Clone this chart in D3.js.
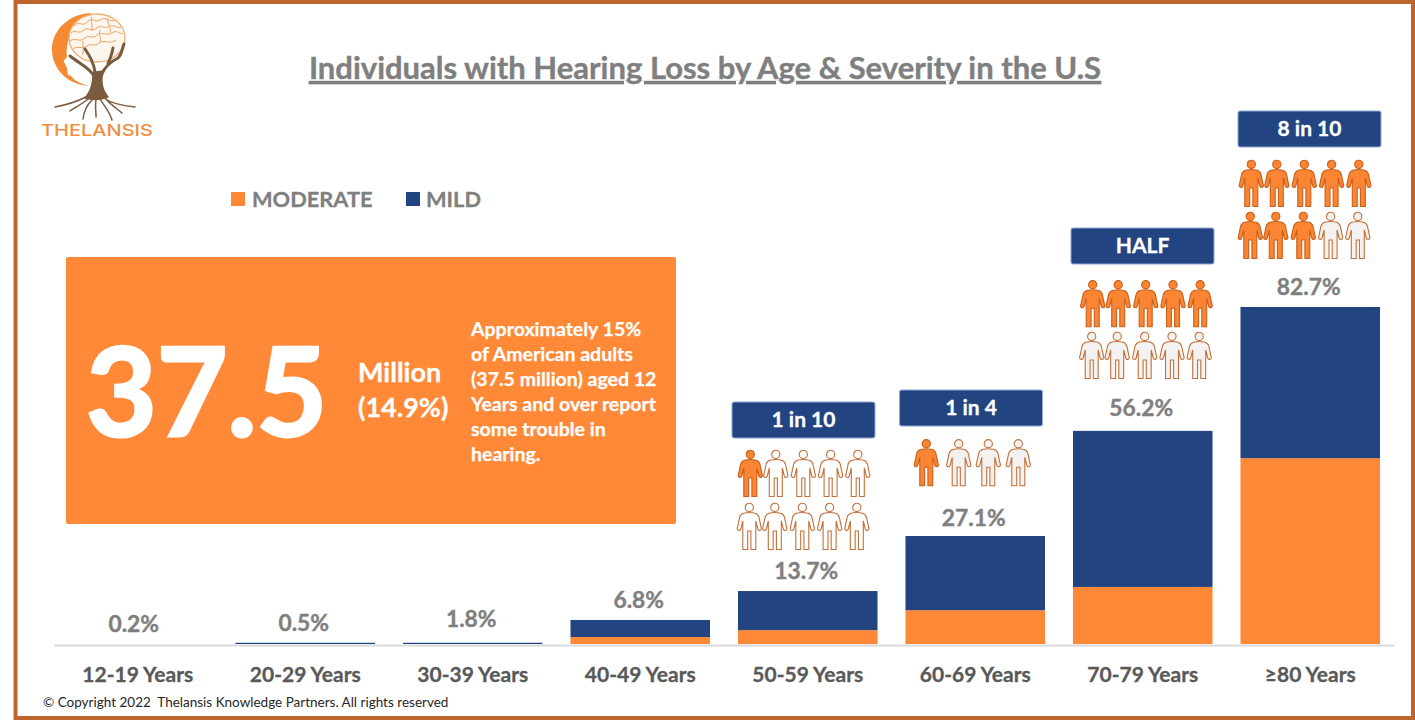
<!DOCTYPE html>
<html>
<head>
<meta charset="utf-8">
<script src="https://cdn.jsdelivr.net/npm/d3@7"></script>
<style>
  html, body { margin: 0; padding: 0; background: #fff; }
  svg { display: block; }
  text { font-family: Lato, "Open Sans", sans-serif; }
  .domain { stroke: #d9d9d9; stroke-width: 2; }
</style>
</head>
<body>
<svg id="chart" width="1415" height="720"></svg>
<script>
// values
const ages = ["12-19 Years", "20-29 Years", "30-39 Years", "40-49 Years", "50-59 Years", "60-69 Years", "70-79 Years", "≥80 Years"]
const moderate = [0, 0, 0, 1.7, 3.4, 8.3, 14, 45.6]
const mild = [0, 0.3, 0.3, 4.2, 9.6, 18.2, 38.3, 37.1]
const totalLabels = ["0.2%", "0.5%", "1.8%", "6.8%", "13.7%", "27.1%", "56.2%", "82.7%"]
const series = ["MODERATE", "MILD"]

// callouts above the last four bars
const calloutAges = ["50-59 Years", "60-69 Years", "70-79 Years", "≥80 Years"]
const calloutText = ["1 in 10", "1 in 4", "HALF", "8 in 10"]
const calloutFilled = [1, 1, 5, 8]
const calloutCount = [10, 4, 10, 10]

const paragraph = ["Approximately 15%", "of American adults", "(37.5 million) aged 12", "Years and over report", "some trouble in", "hearing."]

const ORANGE = "#ff8937"
const BLUE = "#224582"
const GREY = "#7f7f7f"

const svg = d3.select("#chart")

// bold text in the source is a bit heavier than Lato bold
function heavy(sel, color, w) {
  return sel.attr("fill", color).attr("stroke", color).attr("stroke-width", w || 0.35)
    .attr("font-weight", 700)
}

svg.append("rect").attr("width", 1415).attr("height", 720).attr("fill", "#fff")
// frame
svg.append("rect").attr("x", 15.5).attr("y", 2).attr("width", 1397.5).attr("height", 716)
  .attr("fill", "none").attr("stroke", "#bf642c").attr("stroke-width", 4)

let x = d3.scaleBand().domain(ages).range([54, 1394]).paddingInner(0.167).paddingOuter(0.0835)
let y = d3.scaleLinear().domain([0, 82.7]).range([644, 307])

let rows = ages.map((a, i) => ({ age: a, MODERATE: moderate[i], MILD: mild[i] }))
let stack = d3.stack().keys(series)(rows)
let scaleColor = d3.scaleOrdinal().domain(series).range([ORANGE, BLUE])

let axis = svg.append("g").attr("transform", "translate(0,645)")
  .call(d3.axisBottom(x).tickSize(0).tickPadding(22))
axis.selectAll("text").call(heavy, "#595959", 0.3)
  .attr("font-size", 21)
  .style("font-family", "Lato")

svg.append("g").selectAll("g").data(stack).join("g")
  .attr("fill", d => scaleColor(d.key))
  .selectAll("rect").data(d => d).join("rect")
  .attr("x", d => x(d.data.age))
  .attr("width", x.bandwidth())
  .attr("y", d => y(d[1]))
  .attr("height", d => y(d[0]) - y(d[1]))

// total labels, a few sit a little higher or lower in the source
const labelLift = [12, 12, 16, 12, 12, 10, 15, 12]
svg.append("g").selectAll("text").data(ages).join("text")
  .attr("x", d => x(d) + x.bandwidth() / 2 - (d == ages[0] ? 4 : 1.5))
  .attr("y", (d, i) => y(moderate[i] + mild[i]) - labelLift[i])
  .attr("text-anchor", "middle")
  .call(heavy, GREY, 0.4).attr("font-size", 22.8)
  .text((d, i) => totalLabels[i])

// title
svg.append("text").attr("x", 705).attr("y", 79).attr("text-anchor", "middle")
  .call(heavy, GREY, 0.4).attr("font-size", 31)
  .attr("text-decoration", "underline")
  .text("Individuals with Hearing Loss by Age & Severity in the U.S")

// legend
const legendBox = [231, 406]
const legendText = [252, 426]
series.forEach((s, i) => {
  svg.append("rect").attr("x", legendBox[i]).attr("y", 192).attr("width", 14).attr("height", 14).attr("fill", scaleColor(s))
  svg.append("text").attr("x", legendText[i]).attr("y", 207)
    .call(heavy, GREY, 0.3).attr("font-size", 21.8).text(s)
})

// big orange panel
svg.append("rect").attr("x", 66).attr("y", 257).attr("width", 610).attr("height", 267).attr("rx", 2).attr("fill", ORANGE)
svg.append("text").attr("x", 86).attr("y", 436)
  .call(heavy, "#fff", 3).attr("font-size", 122).text("37.5")
svg.append("text").attr("x", 358).attr("y", 382)
  .call(heavy, "#fff", 0.3).attr("font-size", 27).text("Million")
svg.append("text").attr("x", 358).attr("y", 417)
  .call(heavy, "#fff", 0.3).attr("font-size", 27).text("(14.9%)")
svg.append("g").selectAll("text").data(paragraph).join("text")
  .attr("x", 471).attr("y", (d, i) => 336 + i * 25)
  .call(heavy, "#fff", 0.25).attr("font-size", 19.5)
  .text(d => d)

// person glyph, origin at top centre of the head
const body = "M-5,10 Q0,9 5,10 C8,10.5 9,12 9.6,14 L12,25 Q12.5,27 10.5,27.5 Q9,27.5 8.5,26 L6.5,18 L6.5,46.5 L1.6,46.5 L1.6,28 L-1.6,28 L-1.6,46.5 L-6.5,46.5 L-6.5,18 L-8.5,26 Q-9,27.5 -10.5,27.5 Q-12.5,27 -12,25 L-9.6,14 C-9,12 -8,10.5 -5,10 Z"

function person(g, px, py, filled, paper) {
  let p = g.append("g").attr("transform", `translate(${px},${py})`)
    .attr("fill", filled ? "#fb8532" : paper)
    .attr("stroke", filled ? "#c9601a" : "#c4703a").attr("stroke-width", 1.1)
  p.append("circle").attr("cy", 4.4).attr("r", 4.1)
  p.append("path").attr("d", body)
}

// callout layout: box centre, icon-group centre, icon rows
const boxX = [803.5, 971, 1142.5, 1309.5]
const boxY = [402, 390, 228, 111]
const groupX = [803.3, 974, 1145.7, 1304.3]
const rowTop = [[450, 503], [439.3], [280.3, 332], [160, 212]]
const offsets5 = [-53, -27.5, 0, 27.3, 54.5]
const offsets4 = [-47.7, -15.3, 14.3, 44.3]

calloutAges.forEach((age, k) => {
  let g = svg.append("g")
  g.append("rect").attr("x", boxX[k] - 71.5).attr("y", boxY[k]).attr("width", 143).attr("height", 36)
    .attr("rx", 2).attr("fill", BLUE).attr("stroke", "#8fa8d6").attr("stroke-width", 1)
  g.append("text").attr("x", boxX[k]).attr("y", boxY[k] + 25).attr("text-anchor", "middle")
    .call(heavy, "#fff", 0.3).attr("font-size", 21).text(calloutText[k])

  let n = 0
  rowTop[k].forEach((ty, r) => {
    let offs = calloutCount[k] == 4 ? offsets4 : offsets5
    offs.forEach(dx => {
      person(g, groupX[k] + dx - r, ty, n < calloutFilled[k], k == 0 ? "#fff" : "#f4f2f0")
      n++
    })
  })
})

// footer
svg.append("text").attr("x", 43).attr("y", 707).attr("fill", "#262626").attr("font-size", 13.5)
  .attr("xml:space", "preserve").text("© Copyright 2022  Thelansis Knowledge Partners. All rights reserved")

// logo
let logo = svg.append("g")
logo.append("path").attr("fill", "#f58a32")
  .attr("d", "M92,13 C70,13 51,30 52,51 C53,70 68,85 90,86 C80,84 74,80 71,76 L68,75 L67,68 L63.5,61 L67,57 C66,50 67,40 72,33 C77,24 85,17 92,13 Z")
logo.append("ellipse").attr("cx", 97).attr("cy", 38).attr("rx", 28).attr("ry", 24)
  .attr("fill", "#fdf6ee").attr("stroke", "#eeb37e").attr("stroke-width", 1.4)
logo.append("path").attr("fill", "none").attr("stroke", "#eba566").attr("stroke-width", 1)
  .attr("d", "M74,26 C78,20 84,28 88,21 C92,17 96,24 102,19 C106,17 110,23 115,20 M71,33 C75,29 79,35 84,30 C88,26 92,33 97,28 C101,24 106,30 110,26 C113,24 117,29 121,27 M70,41 C75,37 80,43 85,38 C88,34 94,40 97,35 C101,31 108,37 114,32 C117,30 120,35 123,33 M73,49 C78,45 82,50 87,46 C90,43 95,47 99,43 C104,39 110,45 116,40 M92,17 C90,23 94,26 91,31 M108,18 C106,24 112,27 110,33 M83,41 C82,46 85,50 82,55 M100,30 C98,35 102,38 100,43")
// trunk and roots
logo.append("path").attr("fill", "#7b5b3e")
  .attr("d", "M92,72 C93,82 90,92 84,98 C88,101 104,101 109,97 C103,90 101,82 104,70 Z")
logo.append("path").attr("fill", "none").attr("stroke", "#7b5b3e").attr("stroke-linecap", "round")
  .attr("stroke-width", 1.5)
  .attr("d", "M86,97 C76,102 66,105 55,107 M88,99 C82,104 76,107 70,111 M92,100 C87,105 84,110 83,119 M96,100 C95,106 96,111 96,117 M100,99 C104,106 109,110 112,120 M104,98 C112,104 124,106 135,107 M106,99 C110,104 116,108 122,113")
logo.append("path").attr("fill", "none").attr("stroke", "#7b5b3e").attr("stroke-linecap", "round")
  .attr("stroke-width", 3)
  .attr("d", "M94,76 C90,68 80,64 70,56 M95,72 C94,64 90,56 85,49 M102,74 C105,66 110,62 118,58 C122,54 122,49 124,44 M108,63 C111,58 112,53 113,48")
logo.append("text").attr("x", 41).attr("y", 136).attr("textLength", 112).attr("lengthAdjust", "spacingAndGlyphs")
  .attr("fill", "#ee8f42").attr("font-size", 16.5).attr("font-weight", 500).style("font-family", "Inter")
  .text("THELANSIS")
</script>
</body>
</html>
